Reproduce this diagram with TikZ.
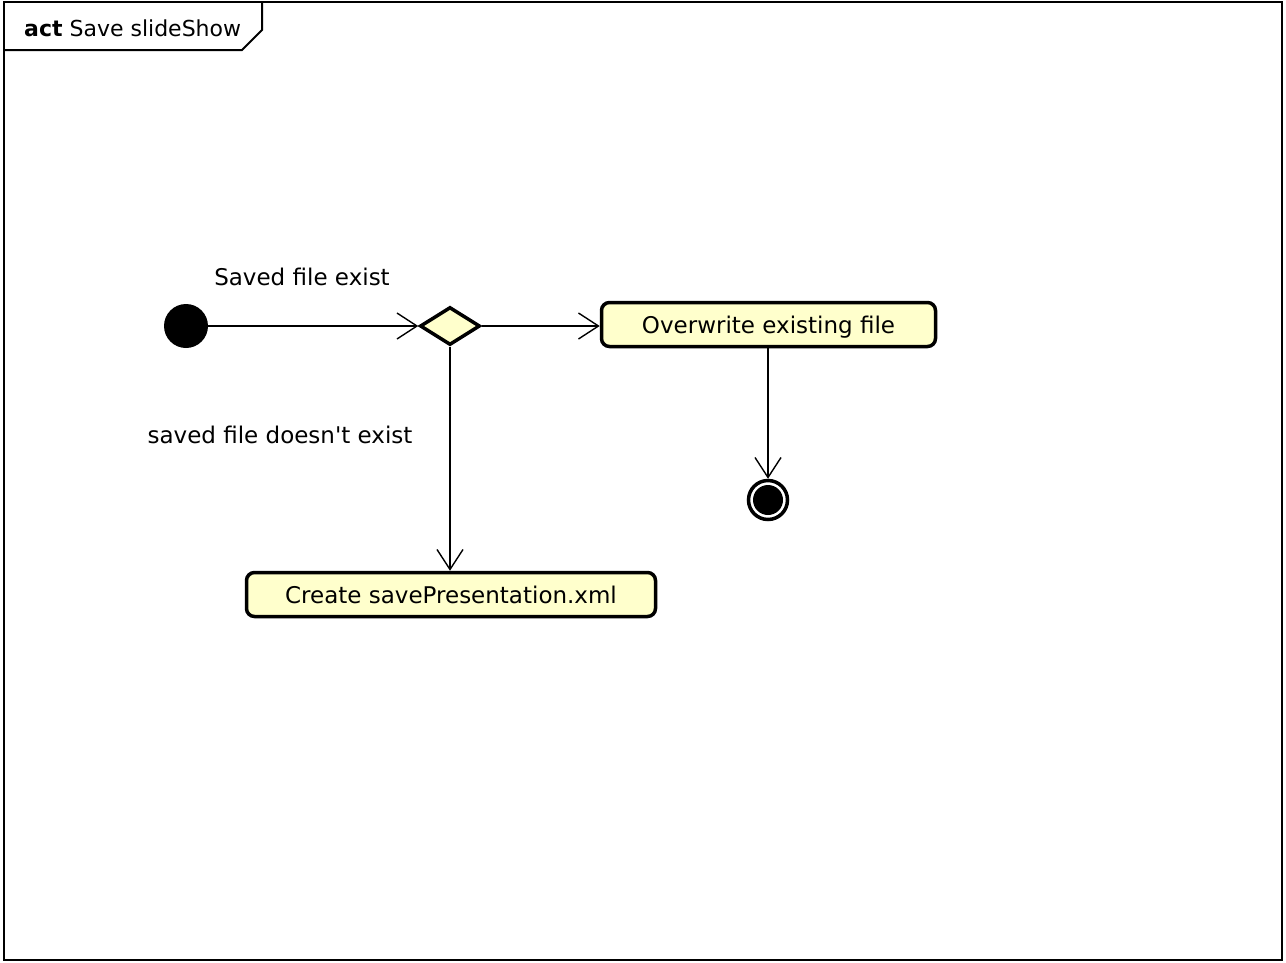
\documentclass[tikz,border=0pt]{standalone}
\usepackage{fontspec}
\setmainfont{DejaVu Sans}
\usetikzlibrary{arrows.meta,shapes.geometric}
\definecolor{actfill}{HTML}{FFFFCC}
\tikzset{
  flow/.style={draw=black, line width=1.4pt, -{Straight Barb[length=20pt,width=26pt,line width=1.4pt]}},
  action/.style={draw=black, line width=3.5pt, fill=actfill, rounded corners=8pt, minimum height=44pt, font=\fontsize{23}{27}\selectfont, inner sep=0pt, text height=17pt, text depth=0pt},
  decision/.style={diamond, draw=black, line width=3.5pt, fill=actfill, minimum width=60pt, minimum height=38pt, inner sep=0pt, aspect=1.55},
  label/.style={font=\fontsize{23}{27}\selectfont, inner sep=0pt},
}
\begin{document}
\begin{tikzpicture}[x=1pt,y=-1pt]
  \useasboundingbox (0,0) rectangle (1286,962);
  % frame and title tab
  \draw[line width=2pt] (4,2) rectangle (1282,960);
  \draw[line width=2pt] (262,2) -- (262,30) -- (242,50) -- (4,50);
  \node[label, font=\fontsize{22}{26}\selectfont, anchor=west] (title) at (24,28) {\textbf{act} Save slideShow};

  % nodes
  \node[circle, fill=black, minimum size=44pt, inner sep=0pt] (start) at (186,326) {};
  \node[decision] (dec) at (450,326) {};
  \node[action, minimum width=334pt] (over) at (768.5,324.5) {Overwrite existing file};
  \node[action, minimum width=409pt] (create) at (451,594.5) {Create savePresentation.xml};
  \node[circle, draw=black, line width=3.5pt, minimum size=39pt, inner sep=0pt] (final) at (768,500) {};
  \node[circle, fill=black, minimum size=30pt, inner sep=0pt] (finaldot) at (final) {};

  % labels
  \node[label] (lblyes) at (302,277) {Saved file exist};
  \node[label] (lblno) at (280,435) {saved file doesn\textquotesingle t exist};

  % connectors
  \draw[flow] (start) -- (dec.west);
  \draw[flow] (dec.east) -- (over.west |- dec.east);
  \draw[flow] (dec.south) -- (create.north -| dec.south);
  \draw[flow] (over.south -| final) -- (final.north);
\end{tikzpicture}
\end{document}
